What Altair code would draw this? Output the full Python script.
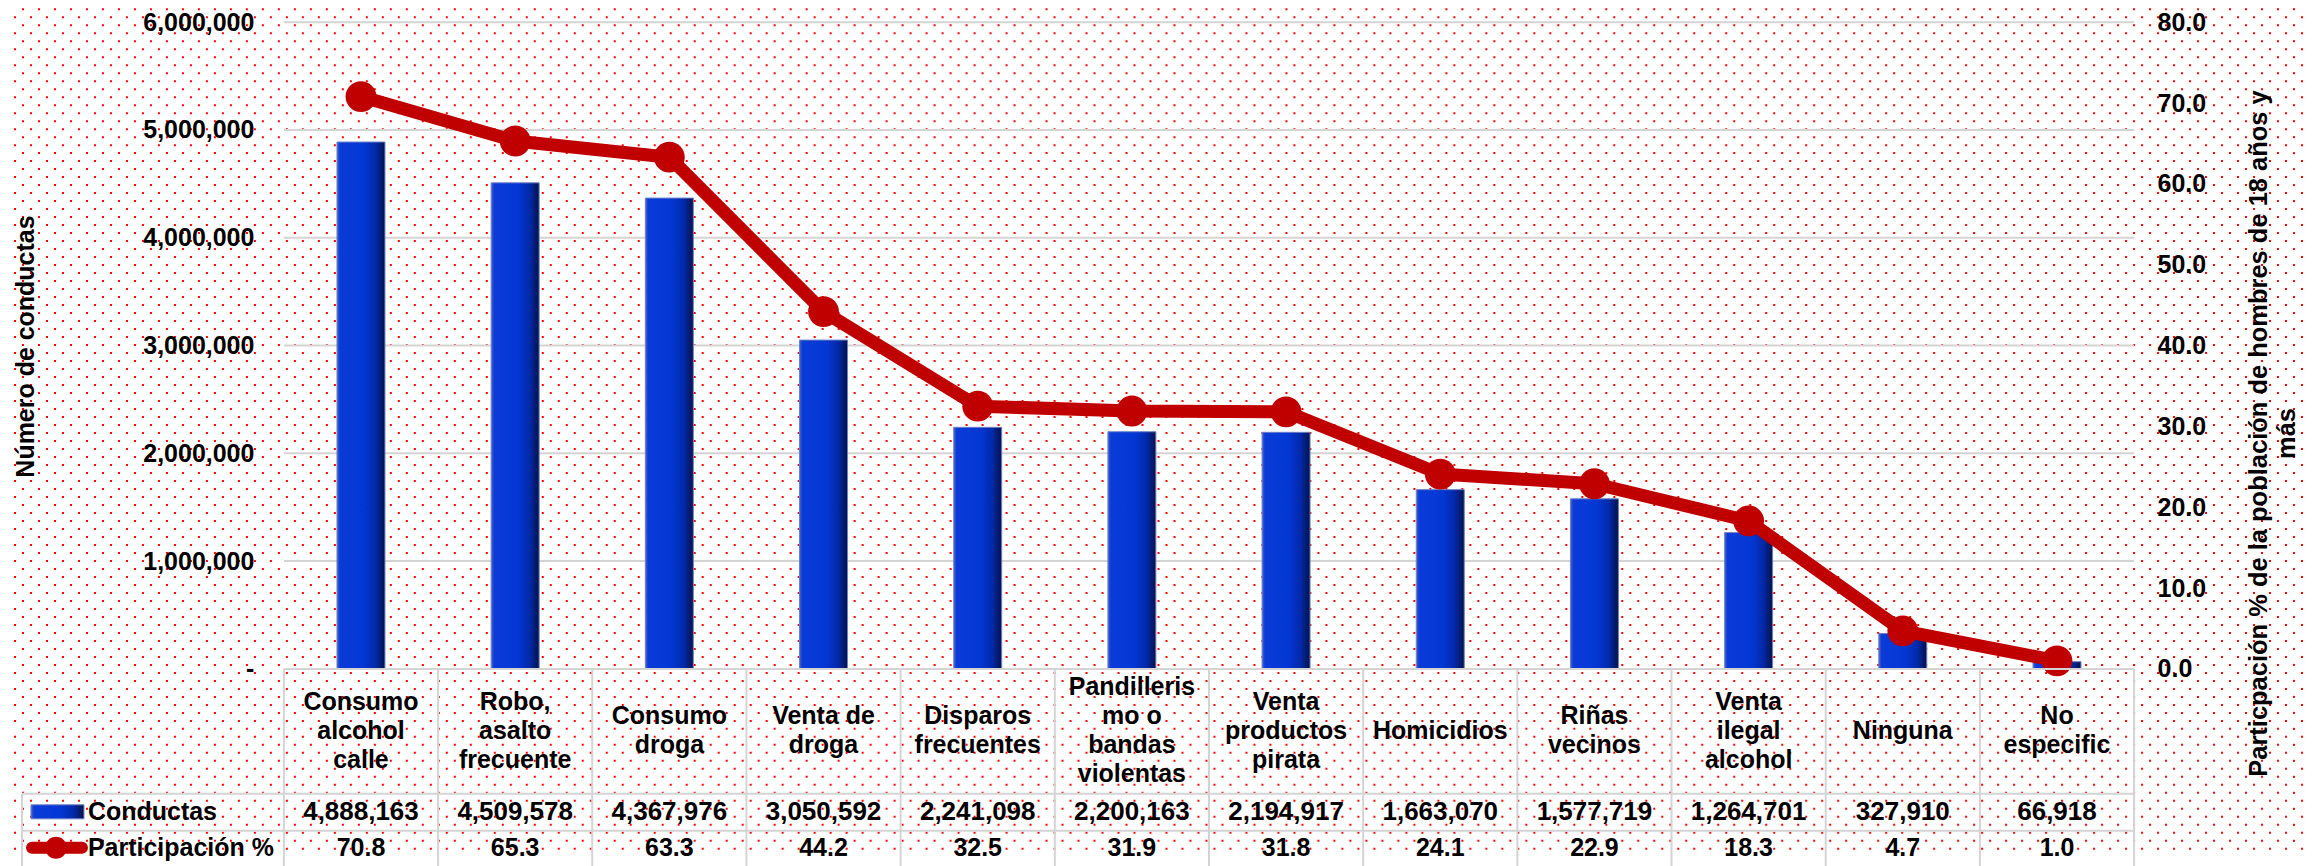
import altair as alt
import pandas as pd

# ---------------- data ----------------
categorias = ["Consumo alcohol calle", "Robo, asalto frecuente", "Consumo droga", "Venta de droga",
              "Disparos frecuentes", "Pandillerismo o bandas violentas", "Venta productos pirata",
              "Homicidios", "Riñas vecinos", "Venta ilegal alcohol", "Ninguna", "No especific"]
etiquetas = ["Consumo\nalcohol\ncalle", "Robo,\nasalto\nfrecuente", "Consumo\ndroga", "Venta de\ndroga",
             "Disparos\nfrecuentes", "Pandilleris\nmo o\nbandas\nviolentas", "Venta\nproductos\npirata",
             "Homicidios", "Riñas\nvecinos", "Venta\nilegal\nalcohol", "Ninguna", "No\nespecific"]
conductas = [4888163, 4509578, 4367976, 3050592, 2241098, 2200163, 2194917,
             1663070, 1577719, 1264701, 327910, 66918]
participacion = [70.8, 65.3, 63.3, 44.2, 32.5, 31.9, 31.8, 24.1, 22.9, 18.3, 4.7, 1.0]
ticks_izq = [0, 1000000, 2000000, 3000000, 4000000, 5000000, 6000000]
ticks_der = [0, 10, 20, 30, 40, 50, 60, 70, 80]
serie_barras = "Conductas"
serie_linea = "Participación %"
titulo_izq = "Número de conductas"
titulo_der = ["Particpación % de la población de hombres de 18 años y", "más"]

df = pd.DataFrame({"cat": categorias, "etiqueta": etiquetas,
                   "conductas": conductas, "participacion": participacion})
grid_df = pd.DataFrame({"v": ticks_izq[1:]})
one = pd.DataFrame({"s": [serie_barras]})

# ---------------- layout / style ----------------
F = "Liberation Sans"
W, H, HC, HV = 1851, 647, 125, 65
GRIDC = "#d4d4d4"
RED = "#c00000"
bar_grad = alt.Gradient(
    gradient="linear", x1=0, x2=1, y1=0, y2=0,
    stops=[alt.GradientStop(color="#4a63c8", offset=0),
           alt.GradientStop(color="#0a3bd8", offset=0.06),
           alt.GradientStop(color="#0337d4", offset=0.55),
           alt.GradientStop(color="#0229aa", offset=0.8),
           alt.GradientStop(color="#03124a", offset=1)])

xscale = alt.Scale(paddingInner=0, paddingOuter=0)
xenc = alt.X("cat:N", sort=categorias, scale=xscale, axis=None)
yl_scale = alt.Scale(domain=[0, 6000000], nice=False)
yr_scale = alt.Scale(domain=[0, 80], nice=False)

left_axis = alt.Axis(values=ticks_izq, labelExpr="datum.value == 0 ? '-\u00a0\u00a0' : format(datum.value, ',')",
                     labelFont=F, labelFontSize=25, labelFontWeight="bold", labelColor="black",
                     labelPadding=30, ticks=False, domain=False, grid=False, zindex=1,
                     title=titulo_izq, titleFont=F, titleFontSize=25, titleFontWeight="bold",
                     titleColor="black", titleAngle=270, titleX=-258, titleY=324,
                     titleBaseline="middle", titleAlign="center")
right_axis = alt.Axis(orient="right", values=ticks_der, format=".1f",
                      labelFont=F, labelFontSize=25, labelFontWeight="bold", labelColor="black",
                      labelPadding=23, ticks=False, domain=False, grid=False, zindex=1,
                      title=titulo_der, titleFont=F, titleFontSize=25.5, titleFontWeight="bold",
                      titleColor="black", titleAngle=270, titleX=124, titleY=411,
                      titleBaseline="middle", titleAlign="center", titleLineHeight=28)

# ---------------- dotted background ----------------
dots = alt.Chart(alt.sequence(0, 106, as_="i")).transform_calculate(
    py="-13 + 8*datum.i", par="datum.i % 2")
dots_a = dots.transform_filter("datum.par == 0").mark_rule(
    color="#ff0000", strokeWidth=2, strokeDash=[2, 14], strokeDashOffset=3, strokeCap="butt"
).encode(x=alt.value(-275), x2=alt.value(2025), y=alt.Y("py:Q", scale=None, axis=None))
dots_b = dots.transform_filter("datum.par == 1").mark_rule(
    color="#ff0000", strokeWidth=2, strokeDash=[2, 14], strokeDashOffset=11, strokeCap="butt"
).encode(x=alt.value(-275), x2=alt.value(2025), y=alt.Y("py:Q", scale=None, axis=None))

# ---------------- main plot ----------------
grid = alt.Chart(grid_df).mark_rule(color=GRIDC, strokeWidth=2).encode(
    y=alt.Y("v:Q", scale=yl_scale, axis=left_axis), x=alt.value(0), x2=alt.value(W))
bars = alt.Chart(df).mark_bar(size=48, color=bar_grad, stroke="#6d80c4", strokeWidth=1).encode(
    x=xenc, y=alt.Y("conductas:Q", scale=yl_scale, axis=left_axis))
left_layer = alt.layer(grid, bars)

line = alt.Chart(df).mark_line(color=RED, strokeWidth=13, strokeJoin="round").encode(
    x=xenc, y=alt.Y("participacion:Q", scale=yr_scale, axis=right_axis))
pts = alt.Chart(df).mark_point(filled=True, color=RED, size=950, opacity=1, shape="circle").encode(
    x=xenc, y=alt.Y("participacion:Q", scale=yr_scale, axis=right_axis))
right_layer = alt.layer(line, pts)

main = alt.layer(dots_a, dots_b, left_layer, right_layer).resolve_scale(
    y="independent").properties(width=W, height=H)

# ---------------- table: category row ----------------
xedge = alt.X("cat:N", sort=categorias, scale=xscale, axis=None, bandPosition=0)
c_v = alt.Chart(df).mark_rule(color=GRIDC, strokeWidth=2).encode(
    x=xedge, y=alt.value(0), y2=alt.value(HC))
c_e = alt.Chart(one).mark_rule(color=GRIDC, strokeWidth=2).encode(
    x=alt.value(W), y=alt.value(0), y2=alt.value(HC))
c_t = alt.Chart(one).mark_rule(color=GRIDC, strokeWidth=2).encode(
    x=alt.value(0), x2=alt.value(W), y=alt.value(0))
c_txt = alt.Chart(df).transform_calculate(
    ly="62 - (length(split(datum.etiqueta, '\\n')) - 1) * 14.5"
).mark_text(lineBreak="\n", font=F, fontSize=25, fontWeight="bold",
            lineHeight=29, color="black", baseline="middle").encode(
    x=xenc, y=alt.Y("ly:Q", scale=None, axis=None), text="etiqueta:N")
cats = alt.layer(c_v, c_e, c_t, c_txt).properties(width=W, height=HC)

# ---------------- table: value rows ----------------
v_v = alt.Chart(df).mark_rule(color=GRIDC, strokeWidth=2).encode(
    x=xedge, y=alt.value(0), y2=alt.value(HV + 10))
v_e = alt.Chart(one).mark_rule(color=GRIDC, strokeWidth=2).encode(
    x=alt.value(W), y=alt.value(0), y2=alt.value(HV + 10))
v_l = alt.Chart(one).mark_rule(color=GRIDC, strokeWidth=2).encode(
    x=alt.value(-262), y=alt.value(0), y2=alt.value(HV + 10))
v_h1 = alt.Chart(one).mark_rule(color=GRIDC, strokeWidth=2).encode(
    x=alt.value(-262), x2=alt.value(W), y=alt.value(0))
v_h2 = alt.Chart(one).mark_rule(color=GRIDC, strokeWidth=2).encode(
    x=alt.value(-262), x2=alt.value(W), y=alt.value(37))
v_c = alt.Chart(df).mark_text(font=F, fontSize=26, fontWeight="bold", color="black",
                              baseline="middle").encode(
    x=xenc, y=alt.value(18), text=alt.Text("conductas:Q", format=","))
v_p = alt.Chart(df).mark_text(font=F, fontSize=25, fontWeight="bold", color="black",
                              baseline="middle").encode(
    x=xenc, y=alt.value(54), text=alt.Text("participacion:Q", format=".1f"))
# legend column
lg_rect = alt.Chart(one).mark_rect(color=bar_grad, stroke="#6d80c4", strokeWidth=1).encode(
    x=alt.value(-253), x2=alt.value(-200), y=alt.value(11), y2=alt.value(25))
lg_line = alt.Chart(one).mark_rule(color=RED, strokeWidth=12, strokeCap="round").encode(
    x=alt.value(-252), x2=alt.value(-202), y=alt.value(54))
lg_pt = alt.Chart(one).mark_point(filled=True, color=RED, size=480, opacity=1, shape="circle").encode(
    x=alt.value(-228), y=alt.value(54))
lg_t1 = alt.Chart(pd.DataFrame({"s": [serie_barras]})).mark_text(
    font=F, fontSize=25, fontWeight="bold", color="black", align="left", baseline="middle").encode(
    x=alt.value(-196), y=alt.value(18), text="s:N")
lg_t2 = alt.Chart(pd.DataFrame({"s": [serie_linea]})).mark_text(
    font=F, fontSize=25, fontWeight="bold", color="black", align="left", baseline="middle").encode(
    x=alt.value(-196), y=alt.value(54), text="s:N")
vals = alt.layer(v_v, v_e, v_l, v_h1, v_h2, v_c, v_p, lg_rect, lg_line, lg_pt, lg_t1, lg_t2).properties(
    width=W, height=HV)

chart = alt.vconcat(main, cats, vals, spacing=0, bounds="flush").properties(
    padding=0, background="white"
).configure_view(stroke=None)

chart.save("out.html", embed_options={"renderer": "svg", "actions": False})
